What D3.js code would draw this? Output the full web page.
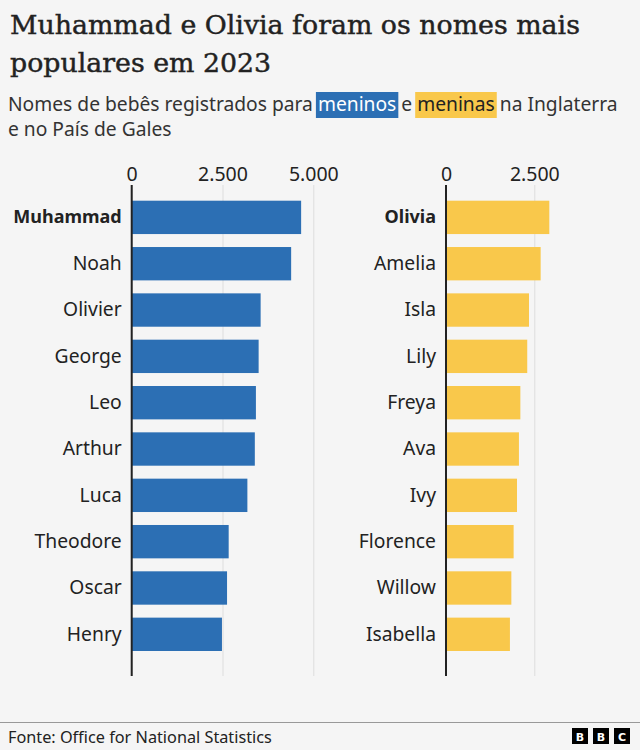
<!DOCTYPE html>
<html>
<head>
<meta charset="utf-8">
<script src="https://cdn.jsdelivr.net/npm/d3@7"></script>
<style>
  html, body { margin: 0; padding: 0; background: #f5f5f5; }
  svg { display: block; }
</style>
</head>
<body>
<svg id="chart" width="640" height="750"></svg>
<script>
// ---- data ----
const boyNames = ["Muhammad", "Noah", "Olivier", "George", "Leo", "Arthur", "Luca", "Theodore", "Oscar", "Henry"];
const boyValues = [4665, 4390, 3550, 3495, 3420, 3390, 3185, 2670, 2625, 2485];
const girlNames = ["Olivia", "Amelia", "Isla", "Lily", "Freya", "Ava", "Ivy", "Florence", "Willow", "Isabella"];
const girlValues = [2925, 2680, 2350, 2300, 2105, 2065, 2010, 1915, 1850, 1810];
const boyTicks = [0, 2500, 5000];
const girlTicks = [0, 2500];

const titleLines = ["Muhammad e Olivia foram os nomes mais", "populares em 2023"];
const source = "Fonte: Office for National Statistics";

// ---- style ----
const BLUE = "#2c6fb4";
const YELLOW = "#f9c84b";
const TEXT = "#222222";
const GRID = "#dddddd";
const SANS = "Noto Sans, sans-serif";
const locale = d3.formatLocale({decimal: ",", thousands: ".", grouping: [3], currency: ["", ""]});
const fmt = locale.format(",");

const svg = d3.select("#chart");
svg.append("rect").attr("width", 640).attr("height", 750).attr("fill", "#f5f5f5");

function fitSize(sel, base, target) {
  sel.attr("font-size", base);
  const w = sel.node().getComputedTextLength();
  const s = base * target / w;
  sel.attr("font-size", s);
  return s;
}

// ---- title ----
const title = svg.append("text")
  .attr("x", 10).attr("y", 34)
  .attr("font-family", "DejaVu Serif")
  .attr("fill", TEXT)
  .attr("stroke", TEXT).attr("stroke-width", 0.45)
  .text(titleLines[0]);
const titleSize = fitSize(title, 27, 570);
svg.append("text")
  .attr("x", 10).attr("y", 72)
  .attr("font-family", "DejaVu Serif")
  .attr("font-size", titleSize)
  .attr("fill", TEXT)
  .attr("stroke", TEXT).attr("stroke-width", 0.45)
  .text(titleLines[1]);

// ---- subtitle with highlighted words ----
const sub = svg.append("text")
  .attr("x", 8).attr("y", 111)
  .attr("font-family", SANS)
  .attr("fill", "#333")
  .attr("xml:space", "preserve");
const parts = [
  {t: "Nomes de bebês registrados para ", hl: null},
  {t: "meninos", hl: BLUE, c: "#ffffff"},
  {t: " e ", hl: null},
  {t: "meninas", hl: YELLOW, c: "#222"},
  {t: " na Inglaterra", hl: null}
];
parts.forEach(p => sub.append("tspan").text(p.t).attr("fill", p.c || "#333"));
const subSize = fitSize(sub, 18, 610);
let idx = 0;
const subNode = sub.node();
parts.forEach(p => {
  if (p.hl) {
    const x0 = subNode.getStartPositionOfChar(idx).x;
    const x1 = subNode.getEndPositionOfChar(idx + p.t.length - 1).x;
    svg.insert("rect", () => subNode)
      .attr("x", x0 - 2).attr("y", 92)
      .attr("width", x1 - x0 + 4).attr("height", 26)
      .attr("fill", p.hl);
  }
  idx += p.t.length;
});
svg.append("text")
  .attr("x", 8).attr("y", 136)
  .attr("font-family", SANS)
  .attr("font-size", subSize)
  .attr("fill", "#333")
  .text("e no País de Gales");

// ---- panels ----
function panel(names, values, ticks, xRange, xDomainMax, color, boldName) {
  const x = d3.scaleLinear().domain([0, xDomainMax]).range(xRange);
  const y = d3.scaleBand().domain(names).range([200.7, 651]).paddingInner(0.28).paddingOuter(0);
  const g = svg.append("g");

  const xAxis = g.append("g")
    .attr("transform", "translate(0,185)")
    .call(d3.axisTop(x).tickValues(ticks).tickFormat(fmt).tickSizeInner(-(676 - 185)).tickSizeOuter(0).tickPadding(4));
  xAxis.select(".domain").remove();
  xAxis.selectAll(".tick line").attr("stroke", GRID).attr("stroke-width", 1);
  xAxis.selectAll(".tick text")
    .attr("font-family", SANS).attr("font-size", 19.5).attr("fill", TEXT);

  g.selectAll("rect.bar")
    .data(names.map((n, i) => ({n, v: values[i]})))
    .join("rect")
    .attr("class", "bar")
    .attr("x", x(0))
    .attr("y", d => y(d.n))
    .attr("width", d => x(d.v) - x(0))
    .attr("height", y.bandwidth())
    .attr("fill", color);

  g.append("line")
    .attr("x1", x(0)).attr("x2", x(0))
    .attr("y1", 185).attr("y2", 676)
    .attr("stroke", "#222").attr("stroke-width", 2);

  const yAxis = g.append("g")
    .attr("transform", `translate(${x(0)},0)`)
    .call(d3.axisLeft(y).tickSize(0).tickPadding(10));
  yAxis.select(".domain").remove();
  yAxis.selectAll(".tick text")
    .attr("font-family", SANS).attr("fill", TEXT)
    .attr("font-size", d => d === boldName ? 18 : 19.3)
    .attr("font-weight", d => d === boldName ? "bold" : "normal");
}

panel(boyNames, boyValues, boyTicks, [131.7, 313.3], 5000, BLUE, boyNames[0]);
panel(girlNames, girlValues, girlTicks, [446, 534.3], 2500, YELLOW, girlNames[0]);

// ---- footer ----
svg.append("line")
  .attr("x1", 0).attr("x2", 640).attr("y1", 722.5).attr("y2", 722.5)
  .attr("stroke", "#999").attr("stroke-width", 1);
const src = svg.append("text")
  .attr("x", 8).attr("y", 743)
  .attr("font-family", SANS)
  .attr("fill", TEXT)
  .text(source);
fitSize(src, 15, 264);
const logo = svg.append("g").attr("transform", "translate(572,728)");
["B", "B", "C"].forEach((ch, i) => {
  logo.append("rect").attr("x", i * 21).attr("y", 0).attr("width", 16).attr("height", 16).attr("fill", "#000");
  logo.append("text").attr("x", i * 21 + 8).attr("y", 12.5)
    .attr("text-anchor", "middle")
    .attr("font-family", "DejaVu Sans, sans-serif").attr("font-weight", "bold")
    .attr("font-size", 11).attr("fill", "#fff").text(ch);
});
</script>
</body>
</html>
